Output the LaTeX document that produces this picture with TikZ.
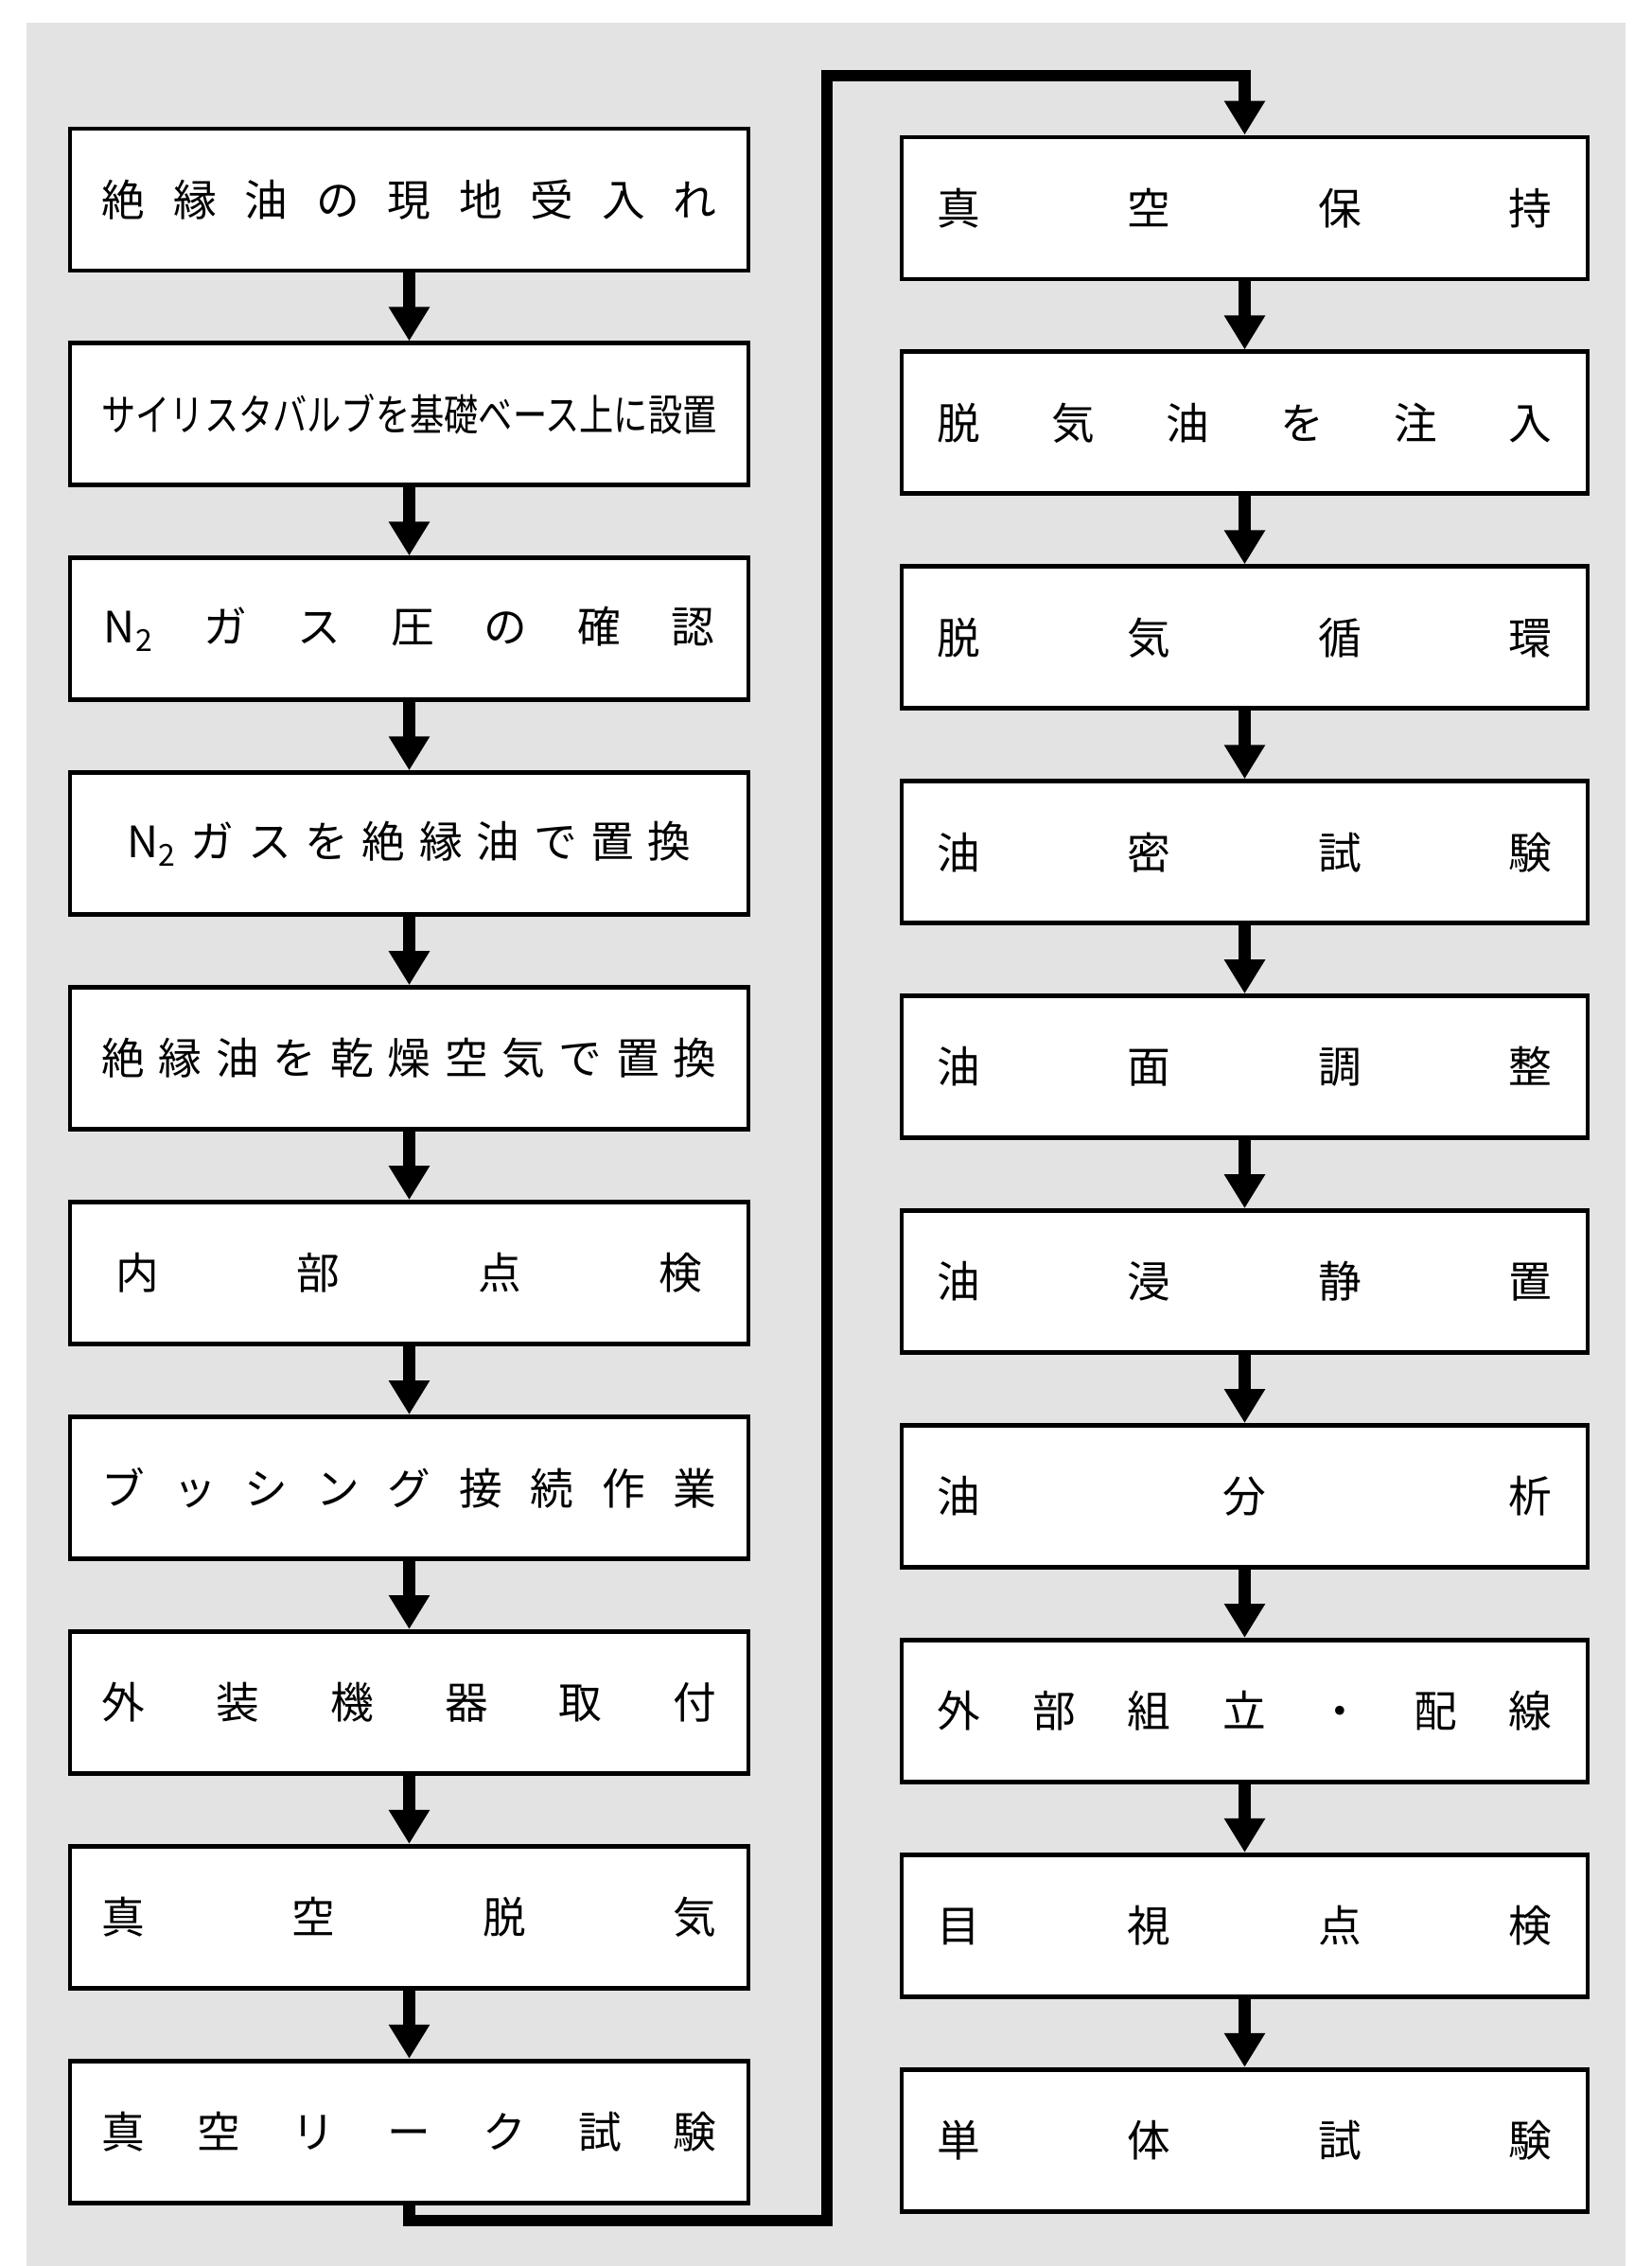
\documentclass[tikz,border=0pt]{standalone}
\usepackage{fontspec}
\setmainfont{Noto Sans CJK JP}
\usepackage{graphicx}
\usetikzlibrary{positioning,arrows.meta}
\definecolor{paper}{gray}{0.89}
\newcommand{\spread}[2][65mm]{\makebox[#1][s]{#2}}

\begin{document}
\begin{tikzpicture}[
  node distance=7.2mm,
  stepbox/.style={draw, line width=1.4pt, fill=white, minimum height=15mm, minimum width=71.7mm,
                  inner sep=0pt, font=\fontsize{13pt}{15pt}\selectfont},
  rstep/.style={stepbox, minimum width=72.5mm},
  arr/.style={-{Triangle[length=3.6mm,width=4.1mm]}, line width=3.6pt},
  back/.style={arr, line join=miter}
]
  \useasboundingbox (0,0) rectangle (174.5mm,-239.5mm);
  \fill[paper] (2.8mm,-2.4mm) rectangle (171.8mm,-239.5mm);

  % left column
  \node[stepbox] (receive) at (43.25mm,-21.1mm) {\spread{絶 縁 油 の 現 地 受 入 れ}};
  \node[stepbox, below=of receive] (mount) {\resizebox{65mm}{\height}{サイリスタバルブを基礎ベース上に設置}};
  \node[stepbox, below=of mount] (gascheck) {\spread[64.5mm]{N\textsubscript{2} ガ ス 圧 の 確 認}};
  \node[stepbox, below=of gascheck] (gasoil) {\spread[59.6mm]{N\textsubscript{2} ガ ス を 絶 縁 油 で 置 換}};
  \node[stepbox, below=of gasoil] (oilair) {\spread{絶 縁 油 を 乾 燥 空 気 で 置 換}};
  \node[stepbox, below=of oilair] (inspect) {\spread[62mm]{内 部 点 検}};
  \node[stepbox, below=of inspect] (bushing) {\spread{ブ ッ シ ン グ 接 続 作 業}};
  \node[stepbox, below=of bushing] (fittings) {\spread{外 装 機 器 取 付}};
  \node[stepbox, below=of fittings] (evacuate) {\spread{真 空 脱 気}};
  \node[stepbox, below=of evacuate] (leak) {\spread{真 空 リ ー ク 試 験}};

  % right column
  \node[rstep] (hold) at (131.55mm,-22.0mm) {\spread{真 空 保 持}};
  \node[rstep, below=of hold] (inject) {\spread{脱 気 油 を 注 入}};
  \node[rstep, below=of inject] (circulate) {\spread{脱 気 循 環}};
  \node[rstep, below=of circulate] (oiltight) {\spread{油 密 試 験}};
  \node[rstep, below=of oiltight] (level) {\spread{油 面 調 整}};
  \node[rstep, below=of level] (soak) {\spread{油 浸 静 置}};
  \node[rstep, below=of soak] (analysis) {\spread{油 分 析}};
  \node[rstep, below=of analysis] (wiring) {\spread{外 部 組 立 ・ 配 線}};
  \node[rstep, below=of wiring] (visual) {\spread{目 視 点 検}};
  \node[rstep, below=of visual] (unittest) {\spread{単 体 試 験}};

  \foreach \a/\b in {receive/mount, mount/gascheck, gascheck/gasoil, gasoil/oilair,
                     oilair/inspect, inspect/bushing, bushing/fittings, fittings/evacuate,
                     evacuate/leak, hold/inject, inject/circulate, circulate/oiltight,
                     oiltight/level, level/soak, soak/analysis, analysis/wiring,
                     wiring/visual, visual/unittest}
    \draw[arr] (\a) -- (\b);

  % return line to the second column
  \coordinate (lowturn) at (87.4mm,-234.7mm);
  \coordinate (highturn) at (87.4mm,-8.0mm);
  \draw[back] (leak.south) |- (lowturn) -- (highturn) -| (hold.north);
\end{tikzpicture}
\end{document}
